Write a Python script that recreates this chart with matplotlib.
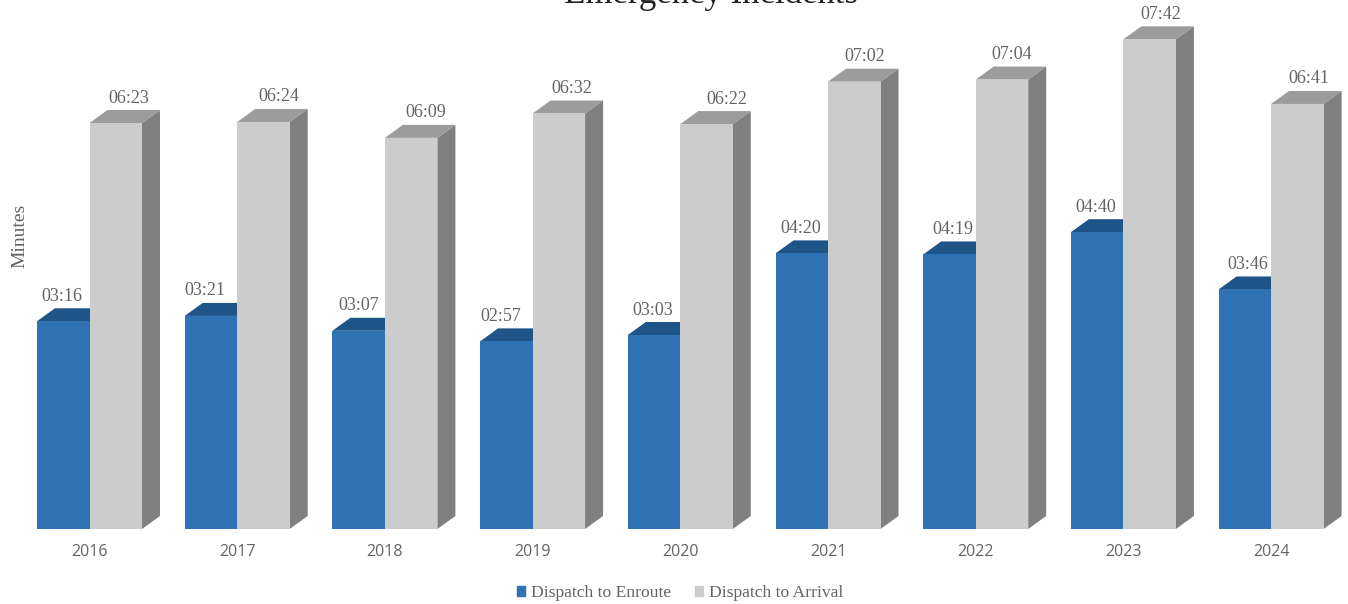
import matplotlib
matplotlib.use("Agg")
import matplotlib.pyplot as plt
from matplotlib.patches import Patch

years = ["2016", "2017", "2018", "2019", "2020", "2021", "2022", "2023", "2024"]
enroute = ["03:16", "03:21", "03:07", "02:57", "03:03", "04:20", "04:19", "04:40", "03:46"]
arrival = ["06:23", "06:24", "06:09", "06:32", "06:22", "07:02", "07:04", "07:42", "06:41"]

def secs(t):
    m, s = t.split(":")
    return int(m)*60 + int(s)

W, H = 1348, 604
BASE_PX, PX_PER_SEC = 529, 1.06
X0_PX, STEP_PX = 89.5, 147.7
BAR = 52.5/STEP_PX
DX, DY = 18/STEP_PX, 13/PX_PER_SEC

fig = plt.figure(figsize=(W/100, H/100), dpi=100)
ax = fig.add_axes([0, 0, 1, 1])
ax.set_xlim(-X0_PX/STEP_PX, (W-X0_PX)/STEP_PX)
ax.set_ylim(-(H-BASE_PX)/PX_PER_SEC, BASE_PX/PX_PER_SEC)
ax.axis("off")

def bar3d(x, h, front, top, side, z):
    ax.fill([x+BAR, x+BAR+DX, x+BAR+DX, x+BAR], [0, DY, h+DY, h], color=side, lw=0, zorder=z)
    ax.fill([x, x+DX, x+BAR+DX, x+BAR], [h, h+DY, h+DY, h], color=top, lw=0, zorder=z)
    ax.fill([x, x+BAR, x+BAR, x], [0, 0, h, h], color=front, lw=0, zorder=z+0.1)

TXT = "#636363"
# label nudges in px, the reference labels are not placed evenly
nudge_e = [-1, -6, 0, -6, -1, -1, 3, -1, 3]
nudge_a = [13, 15, 15, 13, 20, 10, 10, 11, 12]
for i, y in enumerate(years):
    e, a = secs(enroute[i]), secs(arrival[i])
    bar3d(i-BAR, e, "#2e72b4", "#1f5488", "#1f5488", 2)
    bar3d(i, a, "#cccccc", "#9c9c9c", "#808080", 3)
    ax.text(i-BAR/2+nudge_e[i]/STEP_PX, e+25/PX_PER_SEC, enroute[i], ha="center", va="center",
            family="Liberation Serif", fontsize=13, color=TXT, zorder=5)
    ax.text(i+BAR/2+nudge_a[i]/STEP_PX, a+25/PX_PER_SEC, arrival[i], ha="center", va="center",
            family="Liberation Serif", fontsize=13, color=TXT, zorder=5)
    ax.text(i, -22.5/PX_PER_SEC, y, ha="center", va="center", family="Open Sans", fontsize=11.5, color=TXT)

fig.text(711/W, 1-3/H, "Emergency Incidents", ha="center", va="baseline",
         family="Liberation Serif", fontsize=25, color="#222222")
fig.text(20/W, 1-236/H, "Minutes", rotation=90, ha="center", va="center",
         family="Liberation Serif", fontsize=14, color=TXT)

handles = [Patch(color="#2e72b4", label="Dispatch to Enroute"), Patch(color="#cccccc", label="Dispatch to Arrival")]
ax.legend(handles=handles, ncol=2, loc="center", bbox_to_anchor=(680/W, 1-593/H), frameon=False,
          prop={"family": "Liberation Serif", "size": 12.6}, labelcolor=TXT,
          handlelength=0.46, handleheight=0.46, handletextpad=0.32, columnspacing=1.4)

fig.savefig("out.png", dpi=100)
